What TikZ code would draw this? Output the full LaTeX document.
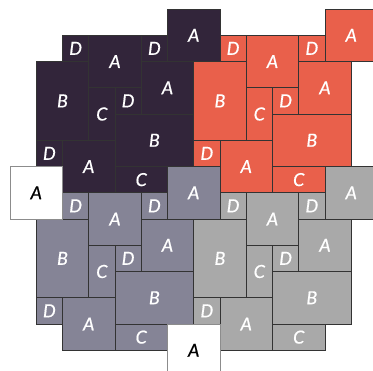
\documentclass[tikz,border=0pt]{standalone}
\usepackage{fontspec}
\setmainfont{Lato}[ItalicFeatures={FakeBold=0.6}]
\definecolor{cdark}{HTML}{32253A}
\definecolor{cred}{HTML}{E9604B}
\definecolor{cblue}{HTML}{858496}
\definecolor{cgray}{HTML}{A9A9A9}
\tikzset{
  piece/.style={draw=black!80, line width=0.8pt},
  lab/.style={text=white, font=\fontsize{18}{20}\selectfont\itshape},
  whitepiece/.style={draw=black!45, line width=0.8pt, fill=white},
  wlab/.style={text=black, font=\fontsize{18}{20}\selectfont\itshape}
}
\newcommand\mytile[4]{%
  \begin{scope}[shift={(#1,#2)}]
    \foreach \xa/\ya/\xb/\yb/\l [count=\i] in {2/1/3/2/D, 3/1/5/3/A, 5/1/6/2/D, 6/0/8/2/A, 5/2/7/4/A, 1/2/3/5/B, 3/3/4/5/C, 4/3/5/4/D, 4/4/7/6/B, 1/5/2/6/D, 2/5/4/7/A, 4/6/6/7/C}{
      \draw[piece, fill=#3] (\xa,\ya) rectangle node[lab] (#4-\i) {\l} (\xb,\yb);
    }
  \end{scope}}
\begin{document}
\begin{tikzpicture}[x=26.25pt,y=-26.25pt]
\useasboundingbox (-0.381,-0.343) rectangle (13.829,13.790);
\clip (-0.381,-0.343) rectangle (13.829,13.790);
\mytile{0}{0}{cdark}{dk}
\mytile{6}{0}{cred}{rd}
\mytile{0}{6}{cblue}{bl}
\mytile{6}{6}{cgray}{gy}
\draw[whitepiece] (0,6) rectangle node[wlab] (w1) {A} (2,8);
\draw[whitepiece] (6,12) rectangle node[wlab] (w2) {A} (8,14);
\end{tikzpicture}
\end{document}
